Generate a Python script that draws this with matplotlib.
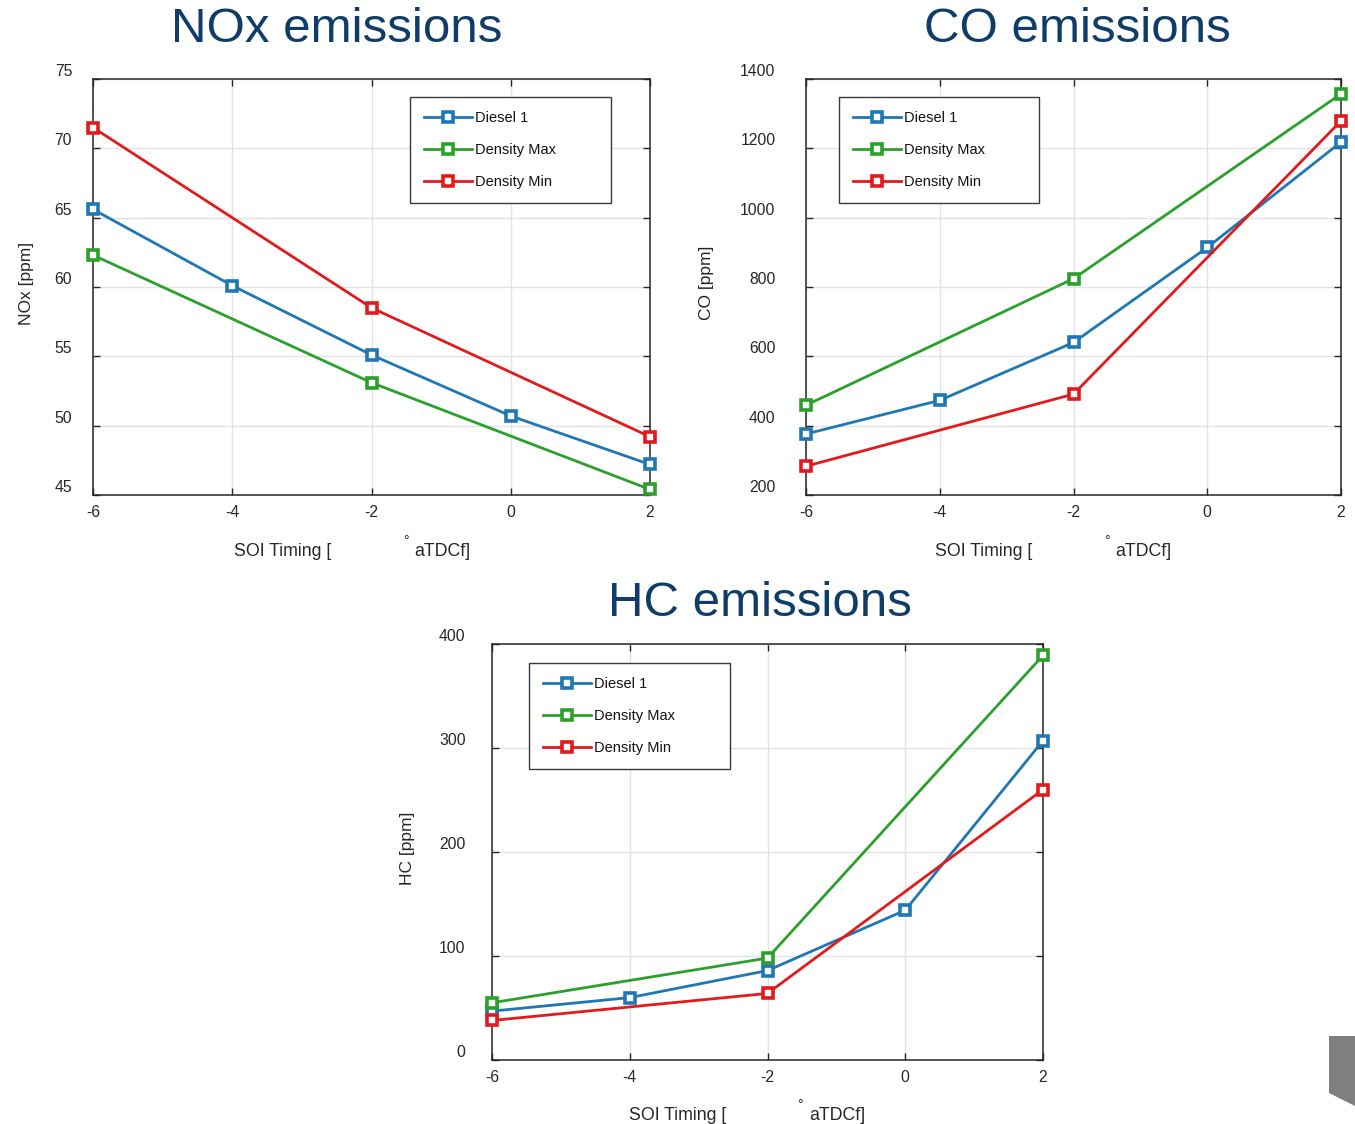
import matplotlib
matplotlib.use("Agg")
import matplotlib.pyplot as plt
from matplotlib.patches import Polygon

plt.rcParams["font.family"] = ["Liberation Sans", "DejaVu Sans"]
plt.rcParams["axes.unicode_minus"] = False

# SOI timing positions [deg aTDCf]
soi_full = [-6, -4, -2, 0, 2]
soi_short = [-6, -2, 2]

series_names = ["Diesel 1", "Density Max", "Density Min"]
series_colors = ["#1f77b4", "#2ca02c", "#e31a1c"]

# NOx [ppm]
nox_diesel = [65.6, 60.1, 55.1, 50.7, 47.2]
nox_dmax = [62.3, 53.1, 45.4]
nox_dmin = [71.5, 58.5, 49.2]

# CO [ppm]
co_diesel = [376, 473, 640, 914, 1218]
co_dmax = [459, 824, 1357]
co_dmin = [283, 491, 1279]

# HC [ppm]
hc_diesel = [47, 60, 86, 144, 307]
hc_dmax = [55, 98, 389]
hc_dmin = [38, 64, 260]

W, H = 1355, 1124
fig = plt.figure(figsize=(W / 100, H / 100), dpi=100)

TITLE_COLOR = "#0f3c68"
TEXT_COLOR = "#262626"


def px(x, y):
    return x / W, 1 - y / H


def panel(rect_px, yvals, ylim, yticks, ylabel, ylabel_x, title, title_xy,
          xlabel_xs, xlabel_y, leg_px, ypad):
    x0, x1, y0, y1 = rect_px
    ax = fig.add_axes([x0 / W, 1 - y1 / H, (x1 - x0) / W, (y1 - y0) / H])
    xs = [soi_full, soi_short, soi_short]
    for xv, yv, name, c in zip(xs, yvals, series_names, series_colors):
        ax.plot(xv, yv, color=c, lw=2.0, marker="s", ms=7.5, mfc="white",
                mec=c, mew=2.6, label=name, clip_on=False, zorder=3)
    ax.set_xlim(-6, 2)
    ax.set_ylim(*ylim)
    ax.set_xticks(soi_full)
    ax.set_yticks(yticks)
    ax.grid(True, color="#e3e3e3", lw=1.0)
    ax.set_axisbelow(True)
    for s in ax.spines.values():
        s.set_color(TEXT_COLOR)
        s.set_linewidth(1.1)
    ax.tick_params(direction="in", top=True, right=True, length=5,
                   width=1.0, color=TEXT_COLOR, labelsize=11.3,
                   labelcolor=TEXT_COLOR)
    ax.tick_params(axis="x", pad=7)
    ax.tick_params(axis="y", pad=ypad)
    for lbl in ax.get_yticklabels():
        lbl.set_va("bottom")

    # legend box
    lx0, lx1, ly0, ly1 = leg_px
    bx0 = (lx0 - x0) / (x1 - x0)
    bw = (lx1 - lx0) / (x1 - x0)
    by1 = (y1 - ly0) / (y1 - y0)
    bh = (ly1 - ly0) / (y1 - y0)
    leg = ax.legend(loc="upper left", bbox_to_anchor=(bx0, by1 - bh, bw, bh),
                    mode="expand", borderaxespad=0, fontsize=10.5,
                    handlelength=3.3, handletextpad=0.2, labelspacing=1.25,
                    borderpad=0.95, fancybox=False, framealpha=1,
                    edgecolor="#3a3a3a")
    leg.get_frame().set_linewidth(1.0)
    leg.set_zorder(5)
    for t in leg.get_texts():
        t.set_color("#111111")

    # axis labels
    fig.text(*px(ylabel_x, (y0 + y1) / 2 - 4), ylabel, rotation=90,
             ha="center", va="center", fontsize=12.5, color=TEXT_COLOR)
    a, b, c = xlabel_xs
    fig.text(*px(a, xlabel_y), "SOI Timing [", ha="left", va="center",
             fontsize=12.8, color=TEXT_COLOR)
    fig.text(*px(b, xlabel_y - 10), "°", ha="center", va="center",
             fontsize=10, color=TEXT_COLOR)
    fig.text(*px(c, xlabel_y), "aTDCf]", ha="left", va="center",
             fontsize=12.8, color=TEXT_COLOR)

    fig.text(*px(*title_xy), title, ha="center", va="center",
             fontsize=35.5, color=TITLE_COLOR)
    return ax


panel((93, 650, 79, 495), [nox_diesel, nox_dmax, nox_dmin], (45, 75),
      [45, 50, 55, 60, 65, 70, 75], "NOx [ppm]", 26, "NOx emissions",
      (337, 29), (234, 406, 414), 551, (410, 611, 97, 200), 15)

panel((806, 1341, 79, 495), [co_diesel, co_dmax, co_dmin], (200, 1400),
      [200, 400, 600, 800, 1000, 1200, 1400], "CO [ppm]", 706,
      "CO emissions", (1077, 29), (935, 1107, 1115), 551,
      (839, 1039, 97, 200), 22)

panel((492, 1043, 644, 1060), [hc_diesel, hc_dmax, hc_dmin], (0, 400),
      [0, 100, 200, 300, 400], "HC [ppm]", 408, "HC emissions",
      (760, 604), (629, 800, 809), 1115, (529, 730, 663, 766), 19)

# grey page-corner tab
corner = [px(1329, 1036), px(1355, 1036), px(1355, 1106), px(1329, 1093)]
fig.patches.append(Polygon(corner, closed=True, transform=fig.transFigure,
                           facecolor="#7f7f7f", edgecolor="none"))

fig.savefig("out.png", dpi=100)
